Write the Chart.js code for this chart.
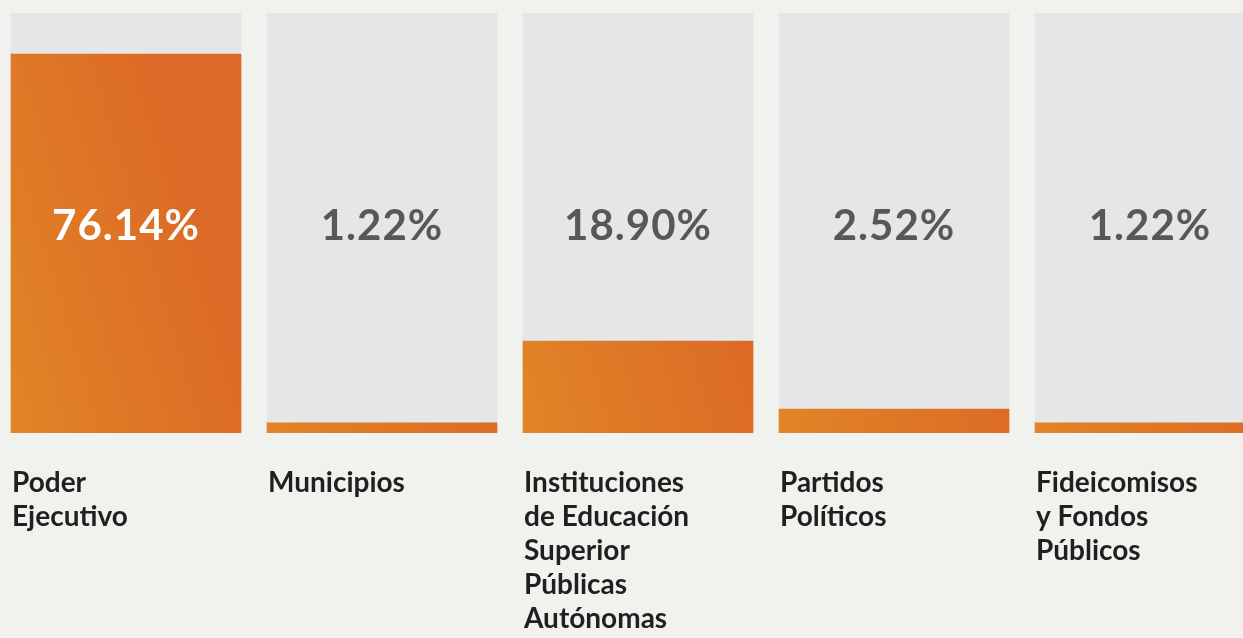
<!DOCTYPE html>
<html lang="es">
<head>
<meta charset="utf-8">
<title>Distribución</title>
<script src="https://cdn.jsdelivr.net/npm/chart.js@4.4.1/dist/chart.umd.min.js"></script>
<style>
    html, body {
        margin: 0;
        padding: 0;
        background: #f1f1ee;
        overflow: hidden;
        width: 1243px;
        height: 638px;
    }
    #wrap {
        position: absolute;
        left: -2px;
        top: 0;
        width: 1280px;
        height: 638px;
    }
</style>
</head>
<body>
<div id="wrap"><canvas id="share-chart"></canvas></div>
<script>
// Categories (multi-line labels as shown under each bar)
const categories = [
    ['Poder', 'Ejecutivo'],
    ['Municipios'],
    ['Instituciones', 'de Educación', 'Superior', 'Públicas', 'Autónomas'],
    ['Partidos', 'Políticos'],
    ['Fideicomisos', 'y Fondos', 'Públicos']
];

// Printed share of each category
const shareLabels = ['76.14%', '1.22%', '18.90%', '2.52%', '1.22%'];

// Orange fill level of each bar (percent of the grey track)
const fillLevels = [90.2, 2.4, 21.9, 5.7, 2.4];

// Full grey track behind each bar
const trackLevels = [100, 100, 100, 100, 100];

const FONT = 'Lato, "Open Sans", sans-serif';

// Orange gradient running across each bar
function barGradient(context) {
    const chart = context.chart;
    const xScale = chart.scales.x;
    if (!chart.chartArea || !xScale) {
        return '#df7727';
    }
    const cx = xScale.getPixelForValue(context.dataIndex);
    const bottom = chart.chartArea.bottom;
    const g = chart.ctx.createLinearGradient(cx - 115, bottom, cx + 115, bottom - 70);
    g.addColorStop(0, '#e18526');
    g.addColorStop(1, '#dc6a26');
    return g;
}

// Draws the percentage inside each track and the category names below
const textPlugin = {
    id: 'barTexts',
    afterDatasetsDraw(chart) {
        const ctx = chart.ctx;
        const xScale = chart.scales.x;
        const yScale = chart.scales.y;
        ctx.save();

        // percentages
        ctx.font = 'bold 42px ' + FONT;
        ctx.letterSpacing = '1px';
        ctx.textAlign = 'center';
        ctx.textBaseline = 'middle';
        shareLabels.forEach((txt, i) => {
            const x = xScale.getPixelForValue(i);
            const y = yScale.getPixelForValue(50) + 3;
            const covered = fillLevels[i] > 50;
            ctx.fillStyle = covered ? '#ffffff' : '#58585a';
            ctx.fillText(txt, x, y);
        });

        // category names
        ctx.font = 'bold 28px ' + FONT;
        ctx.letterSpacing = '0px';
        ctx.textAlign = 'left';
        ctx.textBaseline = 'alphabetic';
        ctx.fillStyle = '#231f20';
        categories.forEach((lines, i) => {
            const x = xScale.getPixelForValue(i) - 114;
            const top = yScale.getPixelForValue(0) + 59;
            lines.forEach((line, j) => {
                ctx.fillText(line, x, top + j * 34);
            });
        });

        ctx.restore();
    }
};

document.addEventListener('DOMContentLoaded', function() {
    const ctx = document.getElementById('share-chart').getContext('2d');
    new Chart(ctx, {
        type: 'bar',
        data: {
            labels: categories,
            datasets: [
                {
                    label: 'Participación',
                    data: fillLevels,
                    backgroundColor: barGradient,
                    barThickness: 230,
                    grouped: false,
                    order: 0
                },
                {
                    label: 'Total',
                    data: trackLevels,
                    backgroundColor: '#e5e6e8',
                    barThickness: 230,
                    grouped: false,
                    order: 1
                }
            ]
        },
        options: {
            responsive: true,
            maintainAspectRatio: false,
            animation: false,
            layout: {
                padding: { left: 0, right: 0, top: 13, bottom: 205 }
            },
            plugins: {
                legend: { display: false },
                tooltip: { enabled: false }
            },
            scales: {
                x: {
                    display: false
                },
                y: {
                    display: false,
                    min: 0,
                    max: 100
                }
            }
        },
        plugins: [textPlugin]
    });
});
</script>
</body>
</html>
